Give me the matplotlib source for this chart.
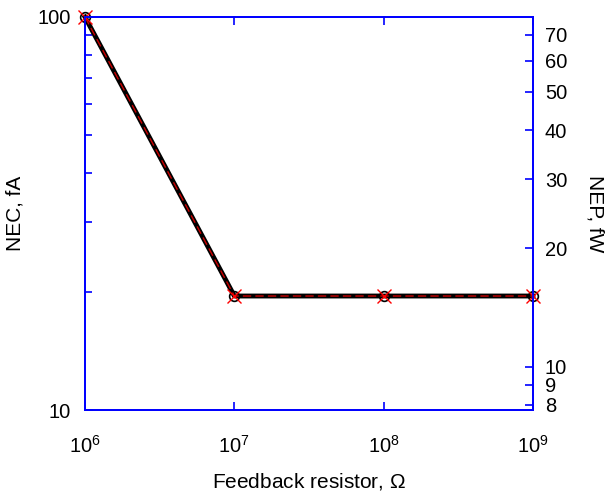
import matplotlib
matplotlib.use("Agg")
import matplotlib.pyplot as plt
from matplotlib.ticker import FixedLocator, FixedFormatter, NullFormatter, LogLocator
import numpy as np

plt.rcParams["font.family"] = ["Liberation Sans", "DejaVu Sans"]
plt.rcParams["mathtext.fontset"] = "custom"
plt.rcParams["mathtext.rm"] = "Liberation Sans"
plt.rcParams["mathtext.it"] = "Liberation Sans"

# data
resistor = [1e6, 1e7, 1e8, 1e9]
nec_fA = [100, 19.5, 19.5, 19.5]
nep_ratio = 1.289          # NEC / NEP scale of the right axis
xticks = [1e6, 1e7, 1e8, 1e9]
xlabels = [r"$10^6$", r"$10^7$", r"$10^8$", r"$10^9$"]
nep_ticks = [8, 9, 10, 20, 30, 40, 50, 60, 70]

blue = "#0000ff"
fs = 14.5
fig = plt.figure(figsize=(6.05, 4.95), dpi=100)
ax = fig.add_axes([85/605, 1 - 410/495, 448/605, 393/495])

ax.plot(resistor, nec_fA, color="black", lw=3.5, marker="o", ms=7,
        mfc="none", mec="black", mew=1.2, zorder=3, clip_on=False)
ax.plot(resistor, nec_fA, color="#cc0000", lw=1.0, ls=(0, (6, 3)),
        marker="x", ms=10, mec="red", mew=1.0, zorder=4, clip_on=False)

ax.set_xscale("log")
ax.set_yscale("log")
ax.set_xlim(1e6, 1e9)
ax.set_ylim(10, 100)
ax.xaxis.set_major_locator(FixedLocator(xticks))
ax.xaxis.set_major_formatter(FixedFormatter(xlabels))
ax.xaxis.set_minor_locator(FixedLocator([]))
ax.yaxis.set_major_locator(FixedLocator([10, 100]))
ax.yaxis.set_major_formatter(FixedFormatter(["10", "100"]))
ax.yaxis.set_minor_locator(LogLocator(base=10, subs=np.arange(2, 10)))
ax.yaxis.set_minor_formatter(NullFormatter())
ax.tick_params(axis="both", which="both", direction="in", colors=blue,
               labelcolor="black", labelsize=fs, top=True, right=False,
               width=1.2)
ax.tick_params(axis="both", which="major", length=6)
ax.tick_params(axis="both", which="minor", length=5)
ax.tick_params(axis="x", which="major", pad=18)
ax.tick_params(axis="y", which="major", pad=10)
for s in ax.spines.values():
    s.set_color(blue)
    s.set_linewidth(1.3)
ax.set_xlabel("Feedback resistor, $\\Omega$", fontsize=15, va="center")
ax.set_ylabel("NEC, fA", fontsize=15, va="center")
ax.xaxis.set_label_coords(0.5, -0.181)
ax.yaxis.set_label_coords(-0.156, 0.5)

ax2 = ax.twinx()
ax2.set_yscale("log")
ax2.set_ylim(10 / nep_ratio, 100 / nep_ratio)
ax2.yaxis.set_major_locator(FixedLocator(nep_ticks))
ax2.yaxis.set_major_formatter(FixedFormatter([str(t) for t in nep_ticks]))
ax2.yaxis.set_minor_locator(FixedLocator([]))
ax2.tick_params(axis="y", which="both", direction="in", colors=blue,
                labelcolor="black", labelsize=fs, length=6, width=1.2, pad=8.5)
for s in ax2.spines.values():
    s.set_color(blue)
    s.set_linewidth(1.3)
ax2.set_ylabel("NEP, fW", fontsize=15, rotation=270, va="center")
ax2.yaxis.set_label_coords(1.138, 0.5)

fig.savefig("out.png", dpi=100)
